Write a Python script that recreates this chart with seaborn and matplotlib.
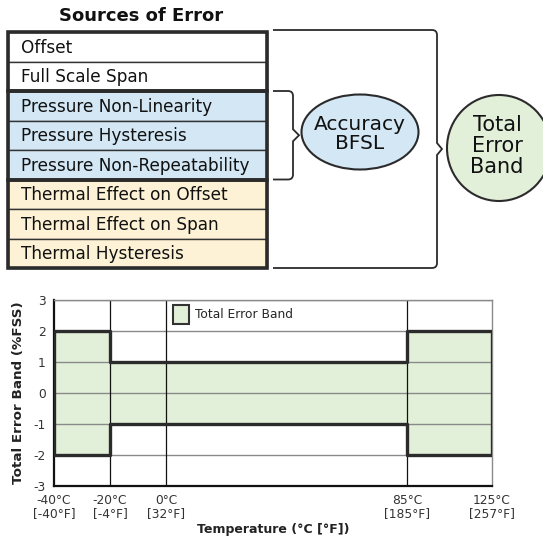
import matplotlib
matplotlib.use("Agg")
import matplotlib.pyplot as plt
import numpy as np
import pandas as pd
import seaborn as sns
from matplotlib.patches import Rectangle, Ellipse, PathPatch
from matplotlib.path import Path

# ---- data ----
source_labels = [
    "Offset",
    "Full Scale Span",
    "Pressure Non-Linearity",
    "Pressure Hysteresis",
    "Pressure Non-Repeatability",
    "Thermal Effect on Offset",
    "Thermal Effect on Span",
    "Thermal Hysteresis",
]
source_groups = ["base", "base", "pressure", "pressure", "pressure", "thermal", "thermal", "thermal"]
group_colors = {"base": "#ffffff", "pressure": "#d3e7f5", "thermal": "#fdf2d5"}

tick_temp_c = [-40, -20, 0, 85, 125]
tick_temp_f = [-40, -4, 32, 185, 257]
band_edges_c = [-40, -20, 85, 125]
band_limit = [2, 1, 2]
y_ticks = [3, 2, 1, 0, -1, -2, -3]

# non-uniform temperature axis as drawn in the original
axis_pos = [0, 56, 112, 353, 438]

GREEN = "#e2efd9"
DARK = "#2b2b2b"

sns.set_style("white")
plt.rcParams["font.family"] = ["DejaVu Sans"]

fig = plt.figure(figsize=(5.43, 5.42), dpi=100)

# ---- top diagram (pixel coordinates) ----
dg = fig.add_axes([0, 0, 1, 1])
dg.set_xlim(0, 543)
dg.set_ylim(542, 0)
dg.axis("off")

dg.text(141, 16, "Sources of Error", ha="center", va="center", fontsize=13,
        fontweight="bold", color="#111111")

x0, x1 = 8, 267
top, rh = 32, 29.5
for i, (label, grp) in enumerate(zip(source_labels, source_groups)):
    y = top + i * rh
    dg.add_patch(Rectangle((x0, y), x1 - x0, rh, facecolor=group_colors[grp],
                           edgecolor="#333333", lw=1.0, zorder=1))
    dg.text(x0 + 13, y + rh / 2 + 1, label, ha="left", va="center", fontsize=12.2,
            color="#111111", zorder=3)

# thicker outlines around each group
start = 0
for grp in ["base", "pressure", "thermal"]:
    n = source_groups.count(grp)
    dg.add_patch(Rectangle((x0, top + start * rh), x1 - x0, n * rh, facecolor="none",
                           edgecolor=DARK, lw=2.6, zorder=2))
    start += n


def bracket(xl, xr, yt, yb, tip, r=5):
    ym = (yt + yb) / 2
    verts = [(xl, yt), (xr - r, yt), (xr, yt), (xr, yt + r),
             (xr, ym - 6), (xr + tip, ym), (xr, ym + 6),
             (xr, yb - r), (xr, yb), (xr - r, yb), (xl, yb)]
    codes = [Path.MOVETO, Path.LINETO, Path.CURVE3, Path.CURVE3,
             Path.LINETO, Path.LINETO, Path.LINETO,
             Path.LINETO, Path.CURVE3, Path.CURVE3, Path.LINETO]
    dg.add_patch(PathPatch(Path(verts, codes), facecolor="none", edgecolor=DARK, lw=1.3))


bracket(273, 293, top + 2 * rh, top + 5 * rh, 6)
bracket(273, 437, 30, 268, 5)

dg.add_patch(Ellipse((360, 132), 117, 75, facecolor=group_colors["pressure"], edgecolor=DARK, lw=1.5))
dg.text(360, 134, "Accuracy\nBFSL", ha="center", va="center", fontsize=14.5,
        linespacing=1.05, color="#111111")

dg.add_patch(Ellipse((499, 148), 104, 106, facecolor=GREEN, edgecolor=DARK, lw=1.5))
dg.text(497, 146, "Total\nError\nBand", ha="center", va="center", fontsize=15,
        linespacing=1.08, color="#111111")

# ---- bottom chart ----
ax = fig.add_axes([54 / 543, 1 - 486 / 542, 438 / 543, 186 / 542])
ax.set_xscale("function", functions=(lambda t: np.interp(t, tick_temp_c, axis_pos),
                                     lambda p: np.interp(p, axis_pos, tick_temp_c)))

xs_up = np.repeat(band_edges_c, 2)[1:-1]
ys_up = np.repeat(band_limit, 2)
poly_x = np.concatenate([xs_up, xs_up[::-1], xs_up[:1]])
poly_y = np.concatenate([ys_up, -ys_up[::-1], ys_up[:1]])

ax.fill(poly_x, poly_y, facecolor=GREEN, edgecolor="none", zorder=0.5)

for yv in y_ticks:
    ax.axhline(yv, color="#8a8a8a", lw=1.0, zorder=1)
for xv in tick_temp_c[1:-1]:
    ax.axvline(xv, color="#111111", lw=0.9, zorder=1)

outline = pd.DataFrame({"temp": poly_x, "tol": poly_y})
sns.lineplot(data=outline, x="temp", y="tol", sort=False, estimator=None,
             color=DARK, lw=2.4, ax=ax, zorder=3)

ax.set_xlim(-40, 125)
ax.set_ylim(-3, 3)
ax.set_xticks(tick_temp_c)
ax.set_xticklabels([f"{c}°C\n[{f}°F]" for c, f in zip(tick_temp_c, tick_temp_f)],
                   fontsize=8.8, color="#333333", linespacing=0.95)
ax.set_yticks(y_ticks)
ax.set_yticklabels([str(v) for v in y_ticks], fontsize=8.8, color="#333333")
ax.tick_params(axis="both", direction="out", length=4, width=1, color="#111111", pad=2)

ax.spines["left"].set_color("#111111")
ax.spines["left"].set_linewidth(1.6)
ax.spines["bottom"].set_color("#111111")
ax.spines["bottom"].set_linewidth(1.6)
for s in ["top", "right"]:
    ax.spines[s].set_color("#8a8a8a")
    ax.spines[s].set_linewidth(1.0)

ax.set_xlabel("Temperature (°C [°F])", fontsize=9.0, fontweight="bold", color="#222222", labelpad=2)
ax.set_ylabel("Total Error Band (%FSS)", fontsize=9.7, fontweight="bold", color="#222222", labelpad=6)

handle = Rectangle((0, 0), 1, 1, facecolor=GREEN, edgecolor="#333333", lw=1.5)
ax.legend([handle], ["Total Error Band"], loc="upper left", bbox_to_anchor=(0.26, 1.0),
          frameon=False, prop={"size": 8.8, "weight": "medium"}, handlelength=1.35,
          handleheight=2.0, handletextpad=0.45, borderaxespad=0.2, borderpad=0.2)

fig.savefig("out.png", dpi=100, facecolor="white")
